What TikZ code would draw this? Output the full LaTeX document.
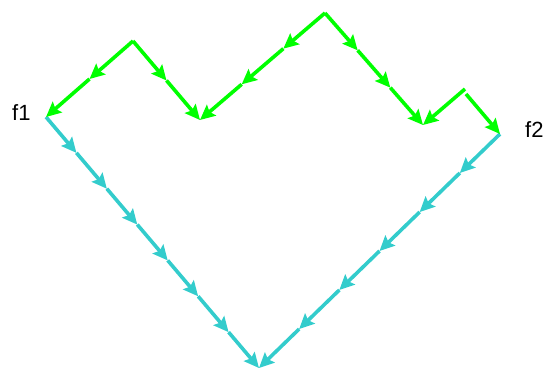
\documentclass[tikz,border=0pt]{standalone}
\usepackage{fontspec}
\setmainfont{Liberation Sans}
\usetikzlibrary{arrows.meta, calc}

\definecolor{flowgreen}{RGB}{0,255,0}
\definecolor{flowcyan}{RGB}{51,204,204}

\begin{document}
\begin{tikzpicture}[
    x=1pt, y=-1pt,
    font=\fontsize{22}{22}\selectfont,
    >={Stealth[length=15pt, width=14pt, inset=2.5pt]},
    upper/.style={->, draw=flowgreen, fill=flowgreen, line width=3.6pt},
    lower/.style={->, draw=flowcyan, fill=flowcyan, line width=3.6pt},
    tag/.style={inner sep=0pt, anchor=base west}
]
\useasboundingbox (0,0) rectangle (544,371);

% ============ CORNER POINTS ============
\coordinate (f1) at (46,117);
\coordinate (f2) at (500,134);
\coordinate (p1) at (133,41);
\coordinate (p2) at (325,13);
\coordinate (v1) at (200,120);
\coordinate (v2) at (423,125);
\coordinate (k1) at (465,89);
\coordinate (k2) at (466,94);
\coordinate (bot) at (259,368);

% ============ LABELS ============
\node[tag] (lf1) at (12,121) {f1};
\node[tag] (lf2) at (525,138) {f2};

% ============ ARROW RUNS (from/to/pieces/style) ============
\foreach \a/\b/\n/\s in {f1/bot/7/lower, f2/bot/6/lower,
                         p1/f1/2/upper, p1/v1/2/upper,
                         p2/v1/3/upper, p2/v2/3/upper,
                         k1/v2/1/upper, k2/f2/1/upper} {
    \foreach \j in {0,...,\n}
        \coordinate (\a-\b-\j) at ($(\a)!\j/\n!(\b)$);
    \foreach \j [evaluate=\j as \i using int(\j-1)] in {1,...,\n}
        \draw[\s] (\a-\b-\i) -- (\a-\b-\j);
}

\end{tikzpicture}
\end{document}
